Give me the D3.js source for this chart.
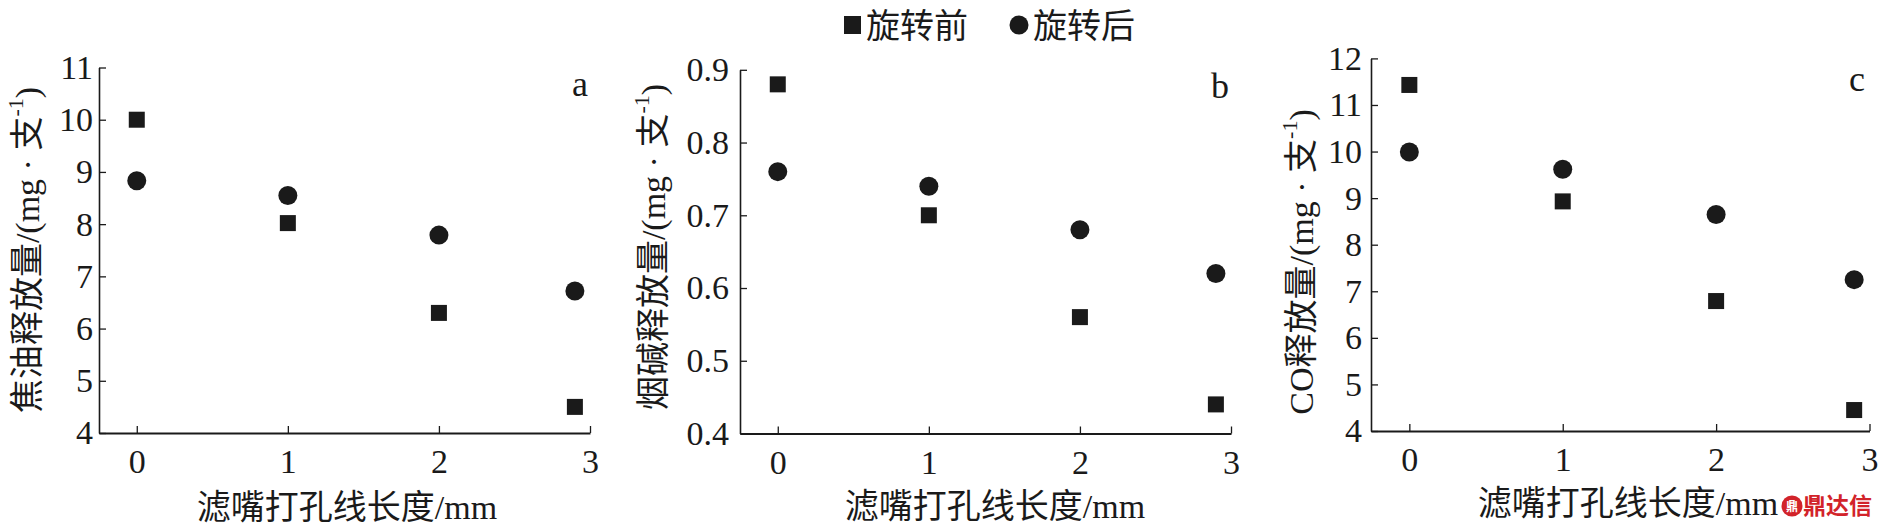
<!DOCTYPE html>
<html>
<head>
<meta charset="utf-8">
<script src="https://cdn.jsdelivr.net/npm/d3@7/dist/d3.min.js"></script>
<style>
  html, body { margin: 0; padding: 0; background: #fff; }
  svg { display: block; }
  text { font-family: "Liberation Serif", "Noto Sans CJK SC", serif; fill: #1a1a1a; }
</style>
</head>
<body>
<svg id="chart" width="1879" height="529"></svg>
<script>
// ---- data ----
const xLengths   = [0, 1, 2, 2.9];
const xTicks     = [0, 1, 2, 3];

const tarBefore  = [10.0, 8.02, 6.30, 4.50];
const tarAfter   = [8.83, 8.55, 7.79, 6.72];
const tarTicks   = [4, 5, 6, 7, 8, 9, 10, 11];

const nicBefore  = [0.88, 0.70, 0.56, 0.44];
const nicAfter   = [0.76, 0.74, 0.68, 0.62];
const nicTicks   = [0.4, 0.5, 0.6, 0.7, 0.8, 0.9];

const coBefore   = [11.43, 8.93, 6.79, 4.45];
const coAfter    = [9.99, 9.62, 8.65, 7.25];
const coTicks    = [4, 5, 6, 7, 8, 9, 10, 11, 12];

const seriesNames = ["旋转前", "旋转后"];
const xTitle = "滤嘴打孔线长度/mm";
const yTitles = ["焦油释放量", "烟碱释放量", "CO释放量"];
const panelLetters = ["a", "b", "c"];

// ---- layout ----
const svg = d3.select("#chart");
const ink = "#1a1a1a";

const panels = [
  { before: tarBefore, after: tarAfter, ticks: tarTicks, fmt: d3.format("d"),
    x0: 99, x1: 590, yTop: 67.5, yBot: 433, pad: 6,
    letter: [580, 84], ylab: [27, 250], xlab: [347, 507] },
  { before: nicBefore, after: nicAfter, ticks: nicTicks, fmt: d3.format(".1f"),
    x0: 740, x1: 1231, yTop: 69.8, yBot: 433.5, pad: 11,
    letter: [1220, 86], ylab: [653, 247], xlab: [995, 506] },
  { before: coBefore, after: coAfter, ticks: coTicks, fmt: d3.format("d"),
    x0: 1371, x1: 1869.5, yTop: 58.4, yBot: 431, pad: 9,
    letter: [1857, 79], ylab: [1301, 262], xlab: [1628, 503] }
];

panels.forEach((p, i) => {
  const x = d3.scaleLinear().domain([-0.25, 3]).range([p.x0, p.x1]);
  const y = d3.scaleLinear().domain([d3.min(p.ticks), d3.max(p.ticks)]).range([p.yBot, p.yTop]);
  const g = svg.append("g");

  // y axis
  const ya = g.append("g").attr("transform", `translate(${p.x0},0)`)
    .call(d3.axisLeft(y).tickValues(p.ticks).tickFormat(p.fmt)
      .tickSizeInner(-7).tickSizeOuter(0).tickPadding(p.pad));
  ya.select(".domain").attr("stroke", ink).attr("stroke-width", 1.6);
  ya.selectAll(".tick line").attr("stroke", ink).attr("stroke-width", 1.3);
  ya.selectAll(".tick text").attr("font-size", 34)
    .attr("font-family", "Liberation Serif").attr("fill", ink);

  // x axis
  const xa = g.append("g").attr("transform", `translate(0,${p.yBot})`)
    .call(d3.axisBottom(x).tickValues(xTicks).tickFormat(d3.format("d"))
      .tickSizeInner(-7).tickSizeOuter(0).tickPadding(16));
  xa.select(".domain").attr("stroke", ink).attr("stroke-width", 2);
  xa.selectAll(".tick line").attr("stroke", ink).attr("stroke-width", 1.3);
  xa.selectAll(".tick text").attr("font-size", 34)
    .attr("font-family", "Liberation Serif").attr("fill", ink);

  // markers
  g.selectAll("rect.before").data(p.before).join("rect")
    .attr("class", "before")
    .attr("x", (d, j) => x(xLengths[j]) - 8)
    .attr("y", d => y(d) - 8)
    .attr("width", 16).attr("height", 16)
    .attr("fill", ink);
  g.selectAll("circle.after").data(p.after).join("circle")
    .attr("class", "after")
    .attr("cx", (d, j) => x(xLengths[j]))
    .attr("cy", d => y(d))
    .attr("r", 9.5)
    .attr("fill", ink);

  // panel letter
  g.append("text").attr("x", p.letter[0]).attr("y", p.letter[1])
    .attr("text-anchor", "middle").attr("dominant-baseline", "central")
    .attr("font-size", 36).text(panelLetters[i]);

  // x title
  g.append("text").attr("x", p.xlab[0]).attr("y", p.xlab[1])
    .attr("text-anchor", "middle").attr("dominant-baseline", "central")
    .attr("font-size", 34).text(xTitle);

  // y title
  const yt = g.append("text")
    .attr("transform", `translate(${p.ylab[0]},${p.ylab[1]}) rotate(-90)`)
    .attr("text-anchor", "middle").attr("dominant-baseline", "central")
    .attr("font-size", 34);
  yt.append("tspan").text(yTitles[i] + "/(mg · 支");
  yt.append("tspan").attr("font-size", 22).attr("dy", -12).text("-1");
  yt.append("tspan").attr("dy", 12).text(")");
});

// legend
const lg = svg.append("g");
lg.append("rect").attr("x", 844).attr("y", 16).attr("width", 17).attr("height", 18).attr("fill", ink);
lg.append("text").attr("x", 866).attr("y", 26).attr("dominant-baseline", "central")
  .attr("font-size", 34).text(seriesNames[0]);
lg.append("circle").attr("cx", 1019).attr("cy", 25).attr("r", 9.5).attr("fill", ink);
lg.append("text").attr("x", 1033).attr("y", 26).attr("dominant-baseline", "central")
  .attr("font-size", 34).text(seriesNames[1]);

// watermark
const wm = svg.append("g");
wm.append("circle").attr("cx", 1792).attr("cy", 506).attr("r", 10.5).attr("fill", "#d2232a");
wm.append("text").attr("x", 1792).attr("y", 507).attr("text-anchor", "middle")
  .attr("dominant-baseline", "central").attr("font-size", 12).attr("font-weight", "bold")
  .style("fill", "#fff").text("鼎");
wm.append("text").attr("x", 1803).attr("y", 506).attr("dominant-baseline", "central")
  .attr("font-size", 23).attr("font-weight", "bold")
  .attr("font-family", "Noto Sans CJK SC").style("fill", "#d2232a").text("鼎达信");
</script>
</body>
</html>
